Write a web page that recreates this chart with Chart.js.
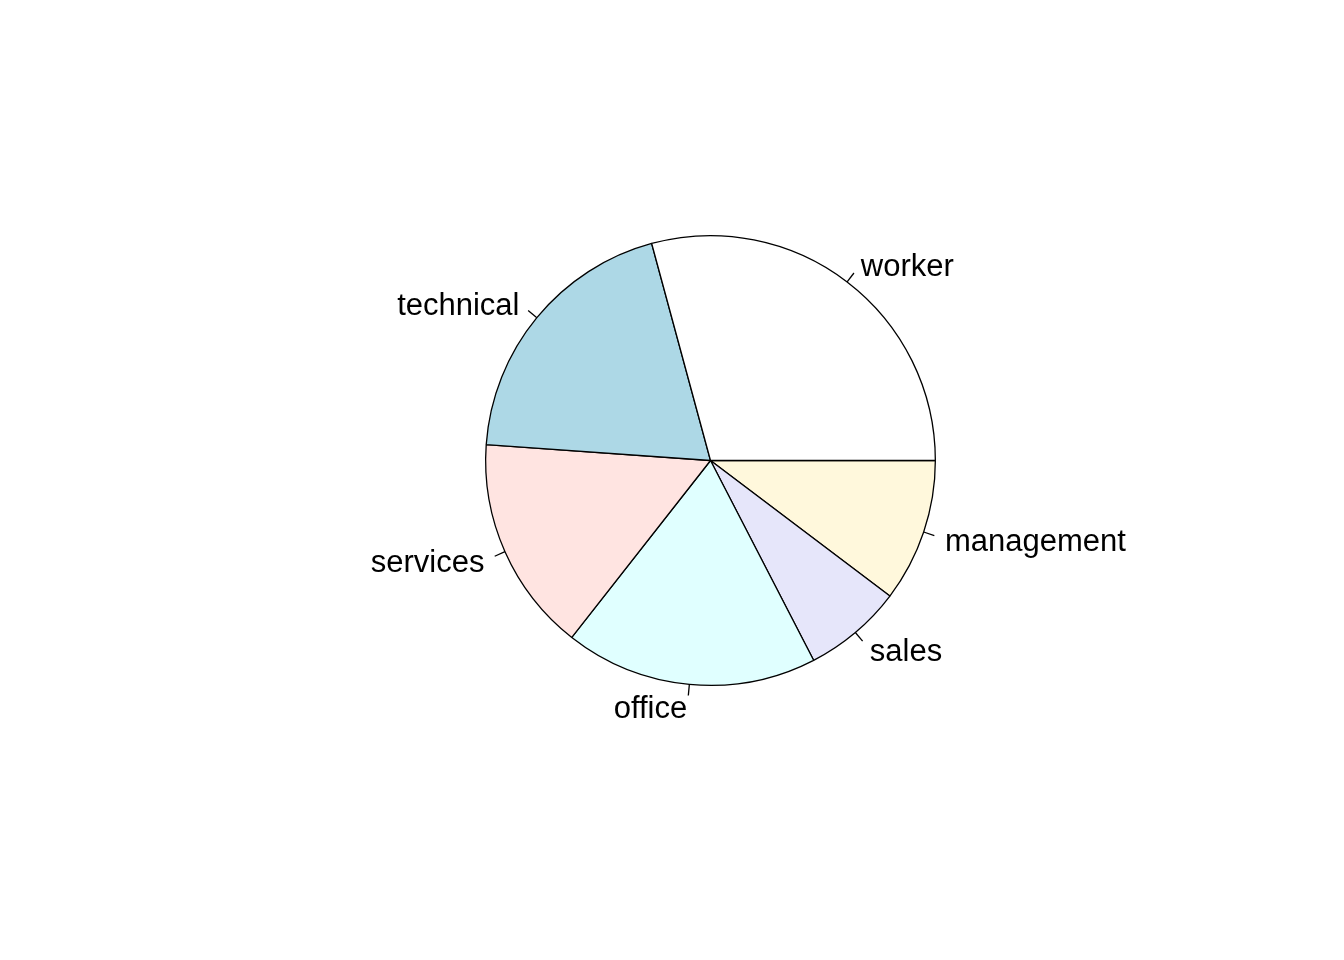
<!DOCTYPE html>
<html>
<head>
<meta charset="utf-8">
<script src="https://cdn.jsdelivr.net/npm/chart.js@4"></script>
<style>
  body { margin: 0; background: #fff; }
  canvas { display: block; }
</style>
</head>
<body>
<canvas id="pie" width="1344" height="960"></canvas>
<script>
// occupation counts, in the order R draws them (counter-clockwise from 3 o'clock)
const categories = ["worker", "technical", "services", "office", "sales", "management"];
const counts = [156, 105, 83, 97, 38, 55];
const sliceColors = ["#FFFFFF", "#ADD8E6", "#FFE4E1", "#E0FFFF", "#E6E6FA", "#FFF8DC"];

// Chart.js goes clockwise, so feed the slices reversed and start at 3 o'clock
const labels = categories.slice().reverse();
const values = counts.slice().reverse();
const colors = sliceColors.slice().reverse();

// draw R-style labels with little tick marks outside the pie
const outsideLabels = {
  id: "outsideLabels",
  afterDraw(chart) {
    const ctx = chart.ctx;
    const arcs = chart.getDatasetMeta(0).data;
    ctx.save();
    ctx.font = "31px 'Liberation Sans', Arial, sans-serif";
    ctx.fillStyle = "#000";
    ctx.strokeStyle = "#000";
    ctx.lineWidth = 1.3;
    ctx.textBaseline = "middle";
    arcs.forEach((arc, i) => {
      const { x, y, startAngle, endAngle, outerRadius } = arc.getProps(["x", "y", "startAngle", "endAngle", "outerRadius"]);
      const mid = (startAngle + endAngle) / 2;
      const c = Math.cos(mid);
      const s = Math.sin(mid);
      ctx.beginPath();
      ctx.moveTo(x + outerRadius * c, y + outerRadius * s);
      ctx.lineTo(x + outerRadius * 1.05 * c, y + outerRadius * 1.05 * s);
      ctx.stroke();
      ctx.textAlign = c >= 0 ? "left" : "right";
      ctx.fillText(chart.data.labels[i], x + outerRadius * 1.1 * c, y + outerRadius * 1.1 * s + 3);
    });
    ctx.restore();
  },
};

new Chart(document.getElementById("pie"), {
  type: "pie",
  data: {
    labels,
    datasets: [
      {
        data: values,
        backgroundColor: colors,
        borderColor: "#000000",
        borderWidth: 1.3,
      },
    ],
  },
  options: {
    responsive: false,
    animation: false,
    rotation: 90,
    events: [],
    layout: { padding: { left: 485, right: 408, top: 235, bottom: 274 } },
    plugins: {
      legend: { display: false },
      tooltip: { enabled: false },
    },
  },
  plugins: [outsideLabels],
});
</script>
</body>
</html>
